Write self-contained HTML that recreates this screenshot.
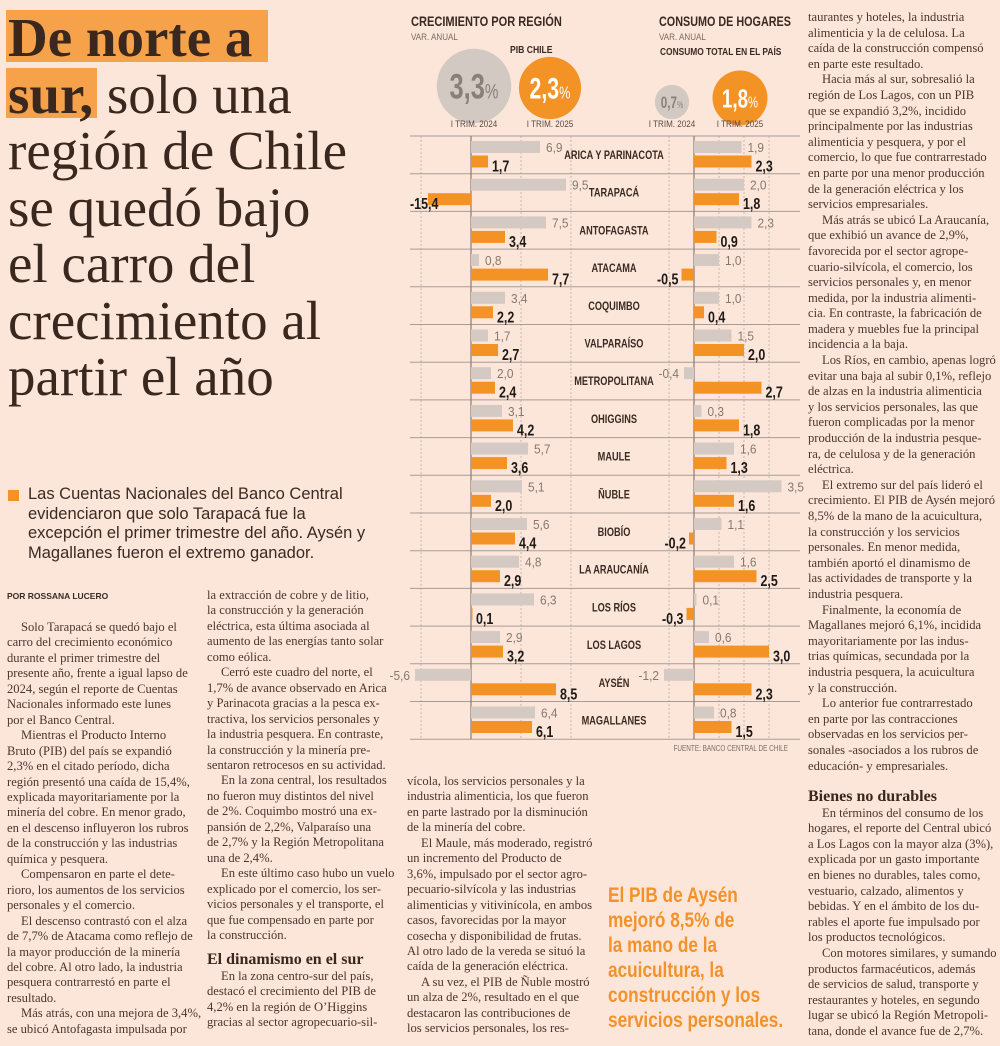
<!DOCTYPE html>
<html><head><meta charset="utf-8">
<style>
*{margin:0;padding:0;box-sizing:border-box}
body{width:1000px;height:1046px;background:#fce6da;position:relative;overflow:hidden;color:#3d2b22;font-family:"Liberation Serif",serif}
.hl{position:absolute;background:#f6a24a}
#headline{position:absolute;left:8px;top:10px;font-size:55px;line-height:56.5px;color:#3a281e;white-space:nowrap}
#deck{position:absolute;left:28px;top:485px;font-family:"Liberation Sans",sans-serif;font-size:16.5px;line-height:19.5px;color:#3a2a22;white-space:nowrap}
.col{position:absolute;font-size:12.6px;line-height:15.45px;white-space:nowrap;color:#4a362c}
.col .i{padding-left:14px}
.sub{font-weight:bold;font-size:16px;color:#3a281e}
#quote{position:absolute;left:608px;top:883px;font-family:"Liberation Sans",sans-serif;font-weight:bold;font-size:21px;line-height:25px;color:#f3922a;white-space:nowrap;transform:scaleX(0.82);transform-origin:0 0}
</style></head><body>
<div class="hl" style="left:6px;top:10px;width:262px;height:52px"></div>
<div class="hl" style="left:6px;top:68px;width:91px;height:50px"></div>
<div id="headline"><b>De norte a</b><br><b>sur,</b> solo una<br>región de Chile<br>se quedó bajo<br>el carro del<br>crecimiento al<br>partir el año</div>
<div style="position:absolute;left:8px;top:490px;width:11px;height:11px;background:#f39325"></div>
<div id="deck">Las Cuentas Nacionales del Banco Central<br>evidenciaron que solo Tarapacá fue la<br>excepción el primer trimestre del año. Aysén y<br>Magallanes fueron el extremo ganador.</div>
<div style="position:absolute;left:7px;top:591px;font-family:'Liberation Sans',sans-serif;font-weight:bold;font-size:8.5px;color:#3a2a22">POR ROSSANA LUCERO</div>

<div class="col" style="left:7px;top:620px"><span class="i"></span>Solo Tarapacá se quedó bajo el<br>carro del crecimiento económico<br>durante el primer trimestre del<br>presente año, frente a igual lapso de<br>2024, según el reporte de Cuentas<br>Nacionales informado este lunes<br>por el Banco Central.<br><span class="i"></span>Mientras el Producto Interno<br>Bruto (PIB) del país se expandió<br>2,3% en el citado período, dicha<br>región presentó una caída de 15,4%,<br>explicada mayoritariamente por la<br>minería del cobre. En menor grado,<br>en el descenso influyeron los rubros<br>de la construcción y las industrias<br>química y pesquera.<br><span class="i"></span>Compensaron en parte el dete-<br>rioro, los aumentos de los servicios<br>personales y el comercio.<br><span class="i"></span>El descenso contrastó con el alza<br>de 7,7% de Atacama como reflejo de<br>la mayor producción de la minería<br>del cobre. Al otro lado, la industria<br>pesquera contrarrestó en parte el<br>resultado.<br><span class="i"></span>Más atrás, con una mejora de 3,4%,<br>se ubicó Antofagasta impulsada por</div>

<div class="col" style="left:207px;top:588px">la extracción de cobre y de litio,<br>la construcción y la generación<br>eléctrica, esta última asociada al<br>aumento de las energías tanto solar<br>como eólica.<br><span class="i"></span>Cerró este cuadro del norte, el<br>1,7% de avance observado en Arica<br>y Parinacota gracias a la pesca ex-<br>tractiva, los servicios personales y<br>la industria pesquera. En contraste,<br>la construcción y la minería pre-<br>sentaron retrocesos en su actividad.<br><span class="i"></span>En la zona central, los resultados<br>no fueron muy distintos del nivel<br>de 2%. Coquimbo mostró una ex-<br>pansión de 2,2%, Valparaíso una<br>de 2,7% y la Región Metropolitana<br>una de 2,4%.<br><span class="i"></span>En este último caso hubo un vuelo<br>explicado por el comercio, los ser-<br>vicios personales y el transporte, el<br>que fue compensado en parte por<br>la construcción.<br><div style="height:9px"></div><span class="sub">El dinamismo en el sur</span><br><span class="i"></span>En la zona centro-sur del país,<br>destacó el crecimiento del PIB de<br>4,2% en la región de O’Higgins<br>gracias al sector agropecuario-sil-</div>

<div class="col" style="left:407px;top:774px">vícola, los servicios personales y la<br>industria alimenticia, los que fueron<br>en parte lastrado por la disminución<br>de la minería del cobre.<br><span class="i"></span>El Maule, más moderado, registró<br>un incremento del Producto de<br>3,6%, impulsado por el sector agro-<br>pecuario-silvícola y las industrias<br>alimenticias y vitivinícola, en ambos<br>casos, favorecidas por la mayor<br>cosecha y disponibilidad de frutas.<br>Al otro lado de la vereda se situó la<br>caída de la generación eléctrica.<br><span class="i"></span>A su vez, el PIB de Ñuble mostró<br>un alza de 2%, resultado en el que<br>destacaron las contribuciones de<br>los servicios personales, los res-</div>

<div id="quote">El PIB de Aysén<br>mejoró 8,5% de<br>la mano de la<br>acuicultura, la<br>construcción y los<br>servicios personales.</div>

<div class="col" style="left:808px;top:10px;line-height:15.6px">taurantes y hoteles, la industria<br>alimenticia y la de celulosa. La<br>caída de la construcción compensó<br>en parte este resultado.<br><span class="i"></span>Hacia más al sur, sobresalió la<br>región de Los Lagos, con un PIB<br>que se expandió 3,2%, incidido<br>principalmente por las industrias<br>alimenticia y pesquera, y por el<br>comercio, lo que fue contrarrestado<br>en parte por una menor producción<br>de la generación eléctrica y los<br>servicios empresariales.<br><span class="i"></span>Más atrás se ubicó La Araucanía,<br>que exhibió un avance de 2,9%,<br>favorecida por el sector agrope-<br>cuario-silvícola, el comercio, los<br>servicios personales y, en menor<br>medida, por la industria alimenti-<br>cia. En contraste, la fabricación de<br>madera y muebles fue la principal<br>incidencia a la baja.<br><span class="i"></span>Los Ríos, en cambio, apenas logró<br>evitar una baja al subir 0,1%, reflejo<br>de alzas en la industria alimenticia<br>y los servicios personales, las que<br>fueron complicadas por la menor<br>producción de la industria pesque-<br>ra, de celulosa y de la generación<br>eléctrica.<br><span class="i"></span>El extremo sur del país lideró el<br>crecimiento. El PIB de Aysén mejoró<br>8,5% de la mano de la acuicultura,<br>la construcción y los servicios<br>personales. En menor medida,<br>también aportó el dinamismo de<br>las actividades de transporte y la<br>industria pesquera.<br><span class="i"></span>Finalmente, la economía de<br>Magallanes mejoró 6,1%, incidida<br>mayoritariamente por las indus-<br>trias químicas, secundada por la<br>industria pesquera, la acuicultura<br>y la construcción.<br><span class="i"></span>Lo anterior fue contrarrestado<br>en parte por las contracciones<br>observadas en los servicios per-<br>sonales -asociados a los rubros de<br>educación- y empresariales.<br><div style="height:15px"></div><span class="sub">Bienes no durables</span><br><span class="i"></span>En términos del consumo de los<br>hogares, el reporte del Central ubicó<br>a Los Lagos con la mayor alza (3%),<br>explicada por un gasto importante<br>en bienes no durables, tales como,<br>vestuario, calzado, alimentos y<br>bebidas. Y en el ámbito de los du-<br>rables el aporte fue impulsado por<br>los productos tecnológicos.<br><span class="i"></span>Con motores similares, y sumando<br>productos farmacéuticos, además<br>de servicios de salud, transporte y<br>restaurantes y hoteles, en segundo<br>lugar se ubicó la Región Metropoli-<br>tana, donde el avance fue de 2,7%.</div>

<svg id="chart" width="1000" height="1046" style="position:absolute;left:0;top:0" font-family="Liberation Sans, sans-serif">
<defs>
<clipPath id="clipL"><rect x="408" y="130" width="200" height="620"/></clipPath>
<clipPath id="clipL2"><rect x="428" y="130" width="180" height="620"/></clipPath>
<clipPath id="clipR"><rect x="640" y="130" width="160" height="620"/></clipPath>
</defs>
<text transform="translate(411,26) scale(0.82,1)" font-size="13.5" font-weight="bold" fill="#3a2a22">CRECIMIENTO POR REGIÓN</text>
<text transform="translate(411,40) scale(0.85,1)" font-size="9.5" fill="#7a6a62">VAR. ANUAL</text>
<text transform="translate(510,53) scale(0.82,1)" font-size="10.5" font-weight="bold" fill="#3a2a22">PIB CHILE</text>
<text transform="translate(659,26) scale(0.8,1)" font-size="13.5" font-weight="bold" fill="#3a2a22">CONSUMO DE HOGARES</text>
<text transform="translate(659,40) scale(0.85,1)" font-size="9.5" fill="#7a6a62">VAR. ANUAL</text>
<text transform="translate(660,55) scale(0.8,1)" font-size="10.5" font-weight="bold" fill="#3a2a22">CONSUMO TOTAL EN EL PAÍS</text>
<g id="circles"></g>
<g id="grid"></g>
<g id="bars"></g>
<text transform="translate(788,751) scale(0.8,1)" font-size="8" fill="#7a6a62" text-anchor="end">FUENTE: BANCO CENTRAL DE CHILE</text>
</svg>
<script>
const regions=["ARICA Y PARINACOTA","TARAPACÁ","ANTOFAGASTA","ATACAMA","COQUIMBO","VALPARAÍSO","METROPOLITANA","OHIGGINS","MAULE","ÑUBLE","BIOBÍO","LA ARAUCANÍA","LOS RÍOS","LOS LAGOS","AYSÉN","MAGALLANES"];
const pib2024=[6.9,9.5,7.5,0.8,3.4,1.7,2.0,3.1,5.7,5.1,5.6,4.8,6.3,2.9,-5.6,6.4];
const pib2025=[1.7,-15.4,3.4,7.7,2.2,2.7,2.4,4.2,3.6,2.0,4.4,2.9,0.1,3.2,8.5,6.1];
const cons2024=[1.9,2.0,2.3,1.0,1.0,1.5,-0.4,0.3,1.6,3.5,1.1,1.6,0.1,0.6,-1.2,0.8];
const cons2025=[2.3,1.8,0.9,-0.5,0.4,2.0,2.7,1.8,1.3,1.6,-0.2,2.5,-0.3,3.0,2.3,1.5];
const nationalPib=[3.3,2.3];
const nationalCons=[0.7,1.8];
const pibGrid=[-5,5,10];
const consGrid=[-1,1,2,3];

const NS="http://www.w3.org/2000/svg";
const xL=v=>471+v*10;
const xR=v=>694+v*25;
const rowTop=i=>136+i*37.7;
const fmt=v=>v.toFixed(1).replace('.',',');
function mk(tag,attrs,parent,text){const e=document.createElementNS(NS,tag);for(const k in attrs)e.setAttribute(k,attrs[k]);if(text!==undefined)e.textContent=text;parent.appendChild(e);return e;}
function ctext(x,y,sx,attrs,parent,text){attrs.transform='translate('+x+','+y+') scale('+sx+',1)';return mk('text',attrs,parent,text);}
const grid=document.getElementById('grid'),bars=document.getElementById('bars'),circ=document.getElementById('circles');

function bubble(cx,cy,v,fill,tc,label,name){
  const r=Math.sqrt(Math.abs(v))*20.5;
  const c=mk('circle',{cx:cx,cy:cy,r:r,fill:fill},circ);
  
  
  const fs=r*0.95;
  const t=ctext(cx,cy+fs*0.36,0.72,{'font-size':fs,'font-weight':'bold',fill:tc,'text-anchor':'middle'},circ);
  
  
  t.appendChild(document.createTextNode(fmt(v)));
  const ts=document.createElementNS(NS,'tspan');ts.setAttribute('font-size',fs*0.6);ts.setAttribute('font-weight','normal');ts.textContent='%';t.appendChild(ts);
  const l=ctext(cx,127,0.85,{'font-size':9.5,fill:'#5a4a42','text-anchor':'middle'},circ,label);
  
  
}
bubble(474,86,nationalPib[0],'#d2c9c3','#8a807b','I TRIM. 2024','pib-2024');
bubble(550,88,nationalPib[1],'#f39325','#fff','I TRIM. 2025','pib-2025');
bubble(672,102,nationalCons[0],'#d2c9c3','#8a807b','I TRIM. 2024','consumption-2024');
bubble(740,98,nationalCons[1],'#f39325','#fff','I TRIM. 2025','consumption-2025');

const bottom=rowTop(regions.length);
pibGrid.forEach(g=>{const l=mk('line',{x1:xL(g),x2:xL(g),y1:136,y2:bottom,stroke:'#c4b8b0','stroke-dasharray':'2,2'},grid);});
consGrid.forEach(g=>{const l=mk('line',{x1:xR(g),x2:xR(g),y1:136,y2:bottom,stroke:'#c4b8b0','stroke-dasharray':'2,2'},grid);});
for(let i=0;i<=regions.length;i++){const l=mk('line',{x1:410,x2:800,y1:rowTop(i),y2:rowTop(i),stroke:'#a89c95','stroke-width':1},grid);}
const z1=mk('line',{x1:xL(0),x2:xL(0),y1:136,y2:bottom,stroke:'#8f837c','stroke-width':1.3},grid);
const z2=mk('line',{x1:xR(0),x2:xR(0),y1:136,y2:bottom,stroke:'#8f837c','stroke-width':1.3},grid);

const gL=mk('g',{'clip-path':'url(#clipL)'},bars),gL2=mk('g',{'clip-path':'url(#clipL2)'},bars),gR=mk('g',{'clip-path':'url(#clipR)'},bars);
function drawBar(g,xf,v,y,h,fill,name,isBold,minX){
  const x0=xf(0),x1=xf(v);
  const r=mk('rect',{x:Math.min(x0,x1),y:y,width:Math.max(Math.abs(x1-x0),1.5),height:h,fill:fill},g);
  
  
  let tx,anchor;
  if(v>=0){tx=x1+(isBold?4:6);anchor='start';}else{tx=x1-(isBold?3:5);anchor='end';}
  if(x1<minX){tx=minX;anchor='start';}
  const t=ctext(tx,isBold?y+h+4:y+h-1,isBold?0.78:0.95,{'font-size':isBold?16:12.5,'font-weight':isBold?'bold':'normal',fill:isBold?'#1f1a17':'#85786f','text-anchor':anchor},bars,fmt(v));
  
  
}
regions.forEach((reg,i)=>{
  const top=rowTop(i);
  drawBar(gL,xL,pib2024[i],top+5,12,'#d4cac3','pib-2024-bar',false,408);
  drawBar(gL2,xL,pib2025[i],top+19.5,12,'#f39325','pib-2025-bar',true,410);
  drawBar(gR,xR,cons2024[i],top+5,12,'#d4cac3','consumption-2024-bar',false,640);
  drawBar(gR,xR,cons2025[i],top+19.5,12,'#f39325','consumption-2025-bar',true,640);
  const t=ctext(614,top+23,0.8,{'font-size':11.5,'font-weight':'bold',fill:'#3a2a22','text-anchor':'middle'},bars,reg);
  
  
});
</script>
</body></html>
